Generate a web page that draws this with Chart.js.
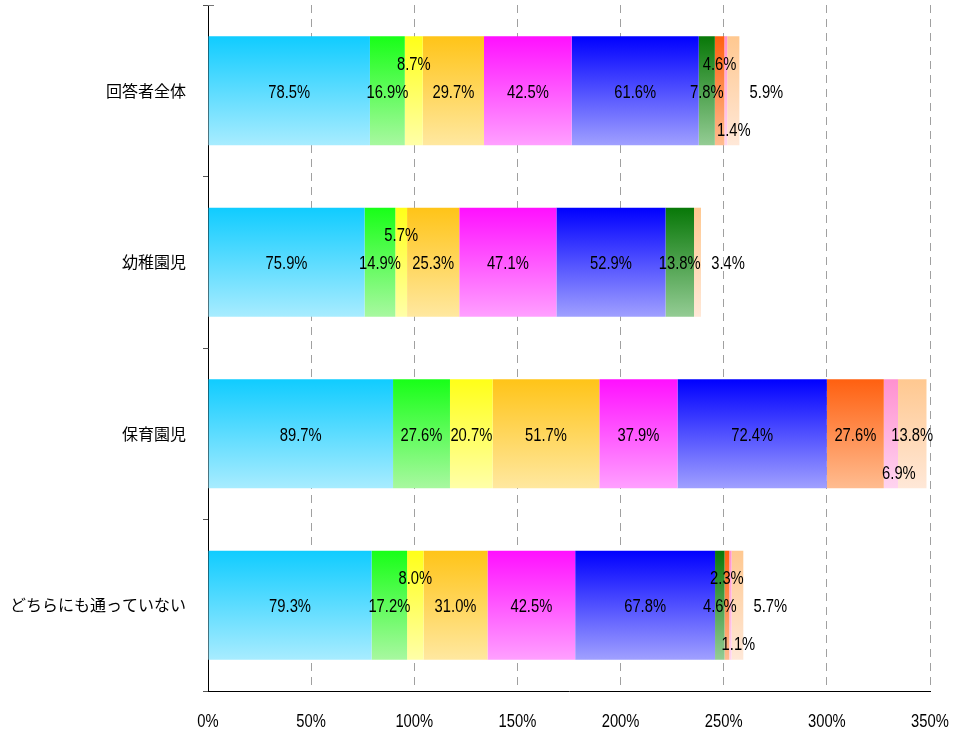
<!DOCTYPE html>
<html>
<head>
<meta charset="utf-8">
<script src="https://cdn.jsdelivr.net/npm/chart.js@4.4.0/dist/chart.umd.min.js"></script>
<style>
  html, body { margin: 0; padding: 0; background: #fff; }
  #wrap { width: 975px; height: 734px; }
</style>
</head>
<body>
<div id="wrap"><canvas id="chart" width="975" height="734"></canvas></div>
<script>
// categories (rows)
const categories = ['回答者全体', '幼稚園児', '保育園児', 'どちらにも通っていない'];

// series values, one per colour segment (%), 0 = segment absent
const s1 = [78.5, 75.9, 89.7, 79.3];
const s2 = [16.9, 14.9, 27.6, 17.2];
const s3 = [8.7, 5.7, 20.7, 8.0];
const s4 = [29.7, 25.3, 51.7, 31.0];
const s5 = [42.5, 47.1, 37.9, 42.5];
const s6 = [61.6, 52.9, 72.4, 67.8];
const s7 = [7.8, 13.8, 0, 4.6];
const s8 = [4.6, 0, 27.6, 2.3];
const s9 = [1.4, 0, 6.9, 1.1];
const s10 = [5.9, 3.4, 13.8, 5.7];

const xTicks = [0, 50, 100, 150, 200, 250, 300, 350];

// gradient colours top -> bottom for each series
const seriesColors = [
    ['#10ccff', '#a8ecff'],
    ['#18ff18', '#a8f8a0'],
    ['#ffff18', '#ffffa8'],
    ['#ffc418', '#ffe8a0'],
    ['#ff10ff', '#ffa0ff'],
    ['#0000ff', '#a0a0ff'],
    ['#087808', '#94cc94'],
    ['#ff6010', '#ffbc90'],
    ['#ff90d0', '#ffd4f0'],
    ['#ffc890', '#ffe8d8']
];

// where each value label sits: c = centre, t = above, b = below, r = right of bar
const labelPlacement = [
    ['c', 'c', 't', 'c', 'c', 'c', 'c', 't', 'b', 'r'],
    ['c', 'c', 't', 'c', 'c', 'c', 'c', 't', 'b', 'r'],
    ['c', 'c', 'c', 'c', 'c', 'c', 'c', 'c', 'b', 'c'],
    ['c', 'c', 't', 'c', 'c', 'c', 'c', 't', 'b', 'r']
];

const barPct = 0.636;
const numFont = '18px "Liberation Sans", Arimo, sans-serif';
const squeeze = 0.82;   // narrow number font look

let drawNarrow = (ctx, text, x, y) => {
    ctx.save();
    ctx.translate(x, y);
    ctx.scale(squeeze, 1);
    ctx.fillText(text, 0, 0);
    ctx.restore();
};

let makeFill = (idx) => {
    return (context) => {
        const chart = context.chart;
        const yScale = chart.scales.y;
        if (!yScale || !chart.chartArea) return seriesColors[idx][0];
        const center = yScale.getPixelForTick(context.dataIndex);
        const half = (yScale.height / categories.length) * barPct / 2;
        const g = chart.ctx.createLinearGradient(0, center - half, 0, center + half);
        g.addColorStop(0, seriesColors[idx][0]);
        g.addColorStop(1, seriesColors[idx][1]);
        return g;
    };
};

const allSeries = [s1, s2, s3, s4, s5, s6, s7, s8, s9, s10];

const valueLabels = {
    id: 'valueLabels',
    afterDatasetsDraw(chart) {
        const ctx = chart.ctx;
        ctx.save();
        ctx.font = numFont;
        ctx.fillStyle = '#000';
        ctx.textAlign = 'center';
        ctx.textBaseline = 'middle';
        chart.data.datasets.forEach((ds, di) => {
            const meta = chart.getDatasetMeta(di);
            meta.data.forEach((bar, i) => {
                const v = ds.data[i];
                if (!v) return;
                let x = (bar.x + bar.base) / 2;
                let y = bar.y + 2;
                const pos = labelPlacement[i][di];
                if (pos === 't') {
                    y -= 28;
                } else if (pos === 'b') {
                    y += 38;
                    x += 8;
                } else if (pos === 'r') {
                    x = bar.x + 27;
                }
                drawNarrow(ctx, v.toFixed(1) + '%', x, y);
            });
        });
        // x axis tick labels
        const xs = chart.scales.x;
        xTicks.forEach(v => {
            drawNarrow(ctx, v + '%', xs.getPixelForValue(v), 722);
        });
        // small mark at the top of the y axis
        ctx.strokeStyle = '#777';
        ctx.lineWidth = 1;
        ctx.beginPath();
        ctx.moveTo(xs.left, chart.chartArea.top + 0.5);
        ctx.lineTo(xs.left + 6, chart.chartArea.top + 0.5);
        ctx.stroke();
        ctx.restore();
    }
};

const ctx = document.getElementById('chart').getContext('2d');
const myChart = new Chart(ctx, {
    type: 'bar',
    data: {
        labels: categories,
        datasets: allSeries.map((vals, idx) => ({
            label: 'S' + (idx + 1),
            data: vals,
            backgroundColor: makeFill(idx),
            borderWidth: 0,
            categoryPercentage: 1,
            barPercentage: barPct
        }))
    },
    options: {
        indexAxis: 'y',
        responsive: false,
        animation: false,
        layout: { padding: { top: 5, right: 45, left: 0, bottom: 0 } },
        plugins: {
            legend: { display: false },
            tooltip: { enabled: false }
        },
        scales: {
            x: {
                stacked: true,
                min: 0,
                max: 350,
                afterBuildTicks: (scale) => {
                    scale.ticks = xTicks.map(v => ({ value: v }));
                },
                afterFit: (scale) => {
                    scale.height = 43;
                    scale.paddingLeft = 0;
                    scale.paddingRight = 0;
                },
                grid: {
                    color: '#a0a0a0',
                    lineWidth: 1,
                    drawTicks: false
                },
                border: { display: true, color: '#000', width: 1, dash: [8, 6] },
                ticks: {
                    padding: 22,
                    color: 'rgba(0,0,0,0)',
                    font: { size: 18 },
                    callback: (v) => v + '%'
                }
            },
            y: {
                stacked: true,
                afterFit: (scale) => {
                    scale.width = 208;
                    scale.paddingTop = 0;
                    scale.paddingBottom = 0;
                },
                grid: {
                    offset: true,
                    drawOnChartArea: false,
                    drawTicks: true,
                    tickLength: 5,
                    color: '#555'
                },
                border: { display: true, color: '#000', width: 1 },
                ticks: {
                    padding: 17,
                    color: '#000',
                    font: { family: '"Noto Sans CJK JP", sans-serif', size: 16 }
                }
            }
        }
    },
    plugins: [valueLabels]
});
</script>
</body>
</html>
